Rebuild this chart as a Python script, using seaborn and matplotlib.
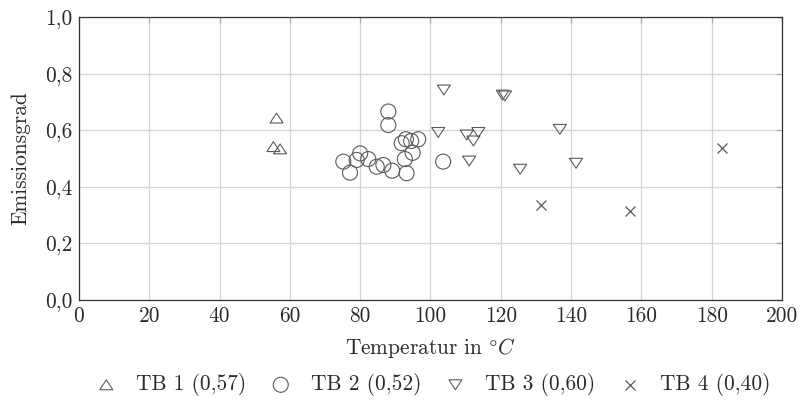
import matplotlib
matplotlib.use("Agg")
import matplotlib.pyplot as plt
import seaborn as sns
import pandas as pd

# --- data -------------------------------------------------------------
tb1_x = [56.2, 55.3, 57.2]
tb1_y = [0.643, 0.542, 0.534]

tb2_x = [88.0, 88.0, 75.2, 77.1, 80.0, 79.0, 82.3, 84.7, 86.6, 89.1,
         93.2, 92.7, 94.9, 91.8, 93.0, 94.5, 96.5, 103.6]
tb2_y = [0.666, 0.618, 0.489, 0.450, 0.518, 0.495, 0.498, 0.471, 0.477, 0.457,
         0.448, 0.498, 0.520, 0.554, 0.568, 0.562, 0.568, 0.489]

tb3_x = [103.8, 120.5, 121.2, 102.2, 110.3, 113.6, 112.2, 111.0, 136.8, 125.5, 141.4]
tb3_y = [0.742, 0.724, 0.721, 0.592, 0.583, 0.592, 0.562, 0.491, 0.603, 0.462, 0.483]

tb4_x = [182.8, 131.3, 156.8]
tb4_y = [0.536, 0.336, 0.316]

labels = ["TB 1 (0,57)", "TB 2 (0,52)", "TB 3 (0,60)", "TB 4 (0,40)"]
x_ticks = [0, 20, 40, 60, 80, 100, 120, 140, 160, 180, 200]
y_ticks = [0.0, 0.2, 0.4, 0.6, 0.8, 1.0]
y_tick_labels = ["0,0", "0,2", "0,4", "0,6", "0,8", "1,0"]

# --- style ------------------------------------------------------------
sns.set_theme(style="white")
plt.rcParams["font.family"] = ["cmr10", "DejaVu Serif"]
plt.rcParams["mathtext.fontset"] = "cm"
plt.rcParams["axes.formatter.use_mathtext"] = True

FS = 15.4
TXT = "#2a2a2a"

fig = plt.figure(figsize=(8.03, 4.04), dpi=100)
ax = fig.add_axes([79 / 803, 1 - 300 / 404, (782 - 79) / 803, (300 - 17) / 404])

mc = "#5a5a5a"
tri_up = [(-1.25, -0.95), (1.25, -0.95), (0, 0.95), (-1.25, -0.95)]
tri_dn = [(-1.25, 0.95), (1.25, 0.95), (0, -0.95), (-1.25, 0.95)]

groups = [
    (tb1_x, tb1_y, tri_up, 88),
    (tb2_x, tb2_y, "o", 117),
    (tb3_x, tb3_y, tri_dn, 88),
    (tb4_x, tb4_y, "x", 52),
]
for (gx, gy, mk, sz), lab in zip(groups, labels):
    df = pd.DataFrame({"x": gx, "y": gy})
    if mk == "x":
        sns.scatterplot(data=df, x="x", y="y", ax=ax, marker="x", s=sz,
                        color=mc, linewidth=0.9, label=lab, zorder=3)
    else:
        sns.scatterplot(data=df, x="x", y="y", ax=ax, marker=mk, s=sz,
                        facecolor="none", edgecolor=mc, linewidth=0.8,
                        label=lab, zorder=3)

ax.set_xlim(0, 200)
ax.set_ylim(0, 1.0)
ax.set_xticks(x_ticks)
ax.set_xticklabels([str(t) for t in x_ticks])
ax.set_yticks(y_ticks)
ax.set_yticklabels(y_tick_labels)

ax.grid(True, color="#d4d4d4", linewidth=0.9)
ax.set_axisbelow(True)
for sp in ax.spines.values():
    sp.set_color("#333333")
    sp.set_linewidth(0.9)

ax.tick_params(axis="both", which="both", direction="in", length=4,
               color="#aaaaaa", width=0.9, labelsize=FS, pad=5,
               top=True, right=True, labelcolor=TXT)

ax.set_xlabel(r"Temperatur in $\degree C$", fontsize=FS, color=TXT, labelpad=7)
ax.set_ylabel("Emissionsgrad", fontsize=FS, color=TXT, labelpad=10)

leg = ax.legend(loc="center", bbox_to_anchor=(0.505, -0.3), ncol=4,
                frameon=False, fontsize=FS, handletextpad=1.0,
                columnspacing=1.2, handlelength=0.8)
for t in leg.get_texts():
    t.set_color(TXT)

fig.savefig("out.png", dpi=100)
